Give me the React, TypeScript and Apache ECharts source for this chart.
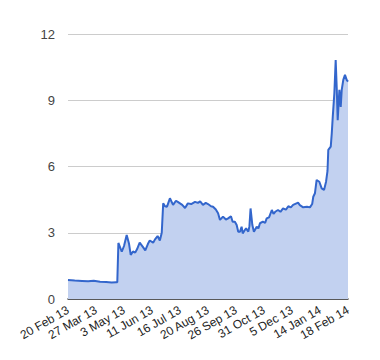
import React, { useEffect, useRef } from "react";
import * as echarts from "echarts";

// x position = trading-day index (0..250), ticks every 25 trading days
const tickLabels = [
  "20 Feb 13", "27 Mar 13", "3 May 13", "11 Jun 13", "16 Jul 13", "20 Aug 13",
  "26 Sep 13", "31 Oct 13", "5 Dec 13", "14 Jan 14", "18 Feb 14",
];

const dayIndex = [
  0, 6, 12.5, 18, 23, 28.6, 34, 39, 43, 44, 45, 48, 50, 52.4, 54.5, 56, 58, 60, 61.6, 64,
  67, 69, 71.4, 73, 76, 77.7, 80, 82, 83.7, 85, 86.6, 88.4, 91, 93.8, 96.4, 98, 102, 104.5,
  107, 110, 113.4, 116, 118, 120.5, 123, 125, 127.7, 129.5, 132, 134, 135.7, 138.4, 141, 143,
  145.5, 147, 149, 150.6, 152, 153.6, 155, 156, 157.6, 159, 161, 162, 163, 164.6, 166, 168.5,
  170, 171.4, 174, 176, 177.4, 179.5, 182, 183.5, 185, 187.5, 189.7, 192, 194.6, 196.7, 199,
  201, 204, 205.4, 207, 210, 213.4, 216, 218, 219, 220.5, 222, 224.4, 226.5, 228.6, 230.4,
  231.7, 232.4, 234.6, 235.5, 236.4, 237.8, 239, 240, 240.8, 242.3, 243.5, 244.4, 245.8,
  247.3, 248.8, 250,
];

const prices = [
  0.86, 0.84, 0.82, 0.8, 0.83, 0.78, 0.77, 0.75, 0.76, 0.76, 2.54, 2.14, 2.4, 2.9, 2.5, 2.0,
  2.15, 2.1, 2.25, 2.55, 2.35, 2.2, 2.5, 2.65, 2.55, 2.7, 2.85, 2.65, 3.0, 4.33, 4.2, 4.18,
  4.56, 4.26, 4.45, 4.4, 4.26, 4.12, 4.33, 4.3, 4.4, 4.35, 4.42, 4.26, 4.35, 4.3, 4.2, 4.18,
  4.05, 3.88, 3.58, 3.73, 3.6, 3.65, 3.75, 3.5, 3.5, 3.35, 3.05, 3.05, 3.27, 2.97, 3.1, 3.2,
  3.05, 3.3, 4.1, 3.35, 3.05, 3.27, 3.2, 3.43, 3.5, 3.45, 3.65, 3.7, 4.03, 3.85, 3.95, 4.03,
  3.95, 4.1, 4.05, 4.2, 4.15, 4.26, 4.33, 4.36, 4.25, 4.15, 4.18, 4.15, 4.3, 4.63, 4.79, 5.39,
  5.31, 5.01, 4.94, 5.31, 5.8, 6.75, 6.9, 7.5, 8.26, 9.3, 10.82, 9.47, 8.1, 9.47, 8.7, 9.47,
  9.92, 10.15, 9.92, 9.84,
];

const yTicks = [0, 3, 6, 9, 12];

export default function App() {
  const ref = useRef<HTMLDivElement>(null);
  useEffect(() => {
    if (!ref.current) return;
    const chart = echarts.init(ref.current, undefined, { renderer: "svg" });
    const data = dayIndex.map((d, i) => [d, prices[i]]);
    chart.setOption({
      animation: false,
      backgroundColor: "#ffffff",
      textStyle: { fontFamily: "Liberation Sans, Arial, sans-serif" },
      grid: { left: 60, right: 24, top: 26, bottom: 53, containLabel: false },
      xAxis: {
        type: "value",
        min: 0,
        max: 250,
        interval: 25,
        axisLine: { show: true, lineStyle: { color: "#333333", width: 1.5 } },
        axisTick: { show: false },
        splitLine: { show: false },
        axisLabel: {
          rotate: 30,
          color: "#222222",
          fontSize: 12,
          margin: 10,
          formatter: (v: number) => tickLabels[Math.round(v / 25)] ?? "",
        },
      },
      yAxis: {
        type: "value",
        min: yTicks[0],
        max: yTicks[yTicks.length - 1],
        interval: 3,
        axisLine: { show: false },
        axisTick: { show: false },
        splitLine: { show: true, lineStyle: { color: "#cccccc", width: 1 } },
        axisLabel: { color: "#444444", fontSize: 13, margin: 13 },
      },
      series: [
        {
          type: "line",
          data,
          showSymbol: false,
          symbol: "none",
          lineStyle: { color: "#3366cc", width: 2 },
          areaStyle: { color: "#c2d1f0", opacity: 1 },
          z: 3,
        },
      ],
    });
    return () => chart.dispose();
  }, []);
  return <div ref={ref} style={{ width: 364, height: 344 }} />;
}
